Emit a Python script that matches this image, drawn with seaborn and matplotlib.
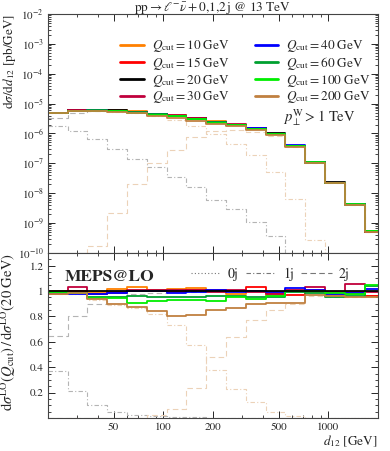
import numpy as np
import matplotlib
matplotlib.use("Agg")
import matplotlib.pyplot as plt
from matplotlib.lines import Line2D
from matplotlib.ticker import FixedLocator, NullFormatter, LogLocator, MultipleLocator, FuncFormatter
import seaborn as sns

# bin edges of the d12 histogram [GeV]
edges = [20.0, 26.3, 34.7, 45.7, 60.3, 79.4, 104.7, 138.0, 182.0, 239.9,
         316.2, 416.9, 549.5, 724.4, 955.0, 1259.0, 1659.6, 2187.8]

# reference prediction Q_cut = 20 GeV, dsigma/dd12 [pb/GeV]
ref_q20 = [5.0e-6, 5.9e-6, 6.2e-6, 5.9e-6, 5.4e-6, 4.6e-6, 4.0e-6, 3.2e-6, 2.5e-6,
           2.0e-6, 1.5e-6, 1.0e-6, 3.9e-7, 1.07e-7, 2.3e-8, 4.3e-9, 5.2e-10]

# ratios to Q_cut = 20 GeV
r10 = [1.00, 1.00, 0.99, 1.02, 1.035, 1.01, 1.02, 1.025, 1.01, 0.975, 1.00, 0.97, 1.00, 0.99, 0.97, 0.975, 0.96]
r15 = [0.975, 1.00, 0.98, 0.99, 1.00, 1.00, 0.99, 1.01, 1.005, 1.00, 1.03, 0.985, 0.97, 1.01, 0.985, 0.99, 0.965]
r20 = [1.0] * 17
r30 = [0.99, 1.03, 0.98, 0.985, 1.005, 1.01, 1.005, 1.01, 0.99, 1.005, 0.99, 0.98, 1.01, 1.035, 0.99, 1.055, 0.995]
r40 = [0.985, 0.975, 0.98, 0.985, 1.00, 1.00, 0.985, 0.99, 1.005, 0.99, 1.00, 0.99, 1.025, 1.01, 0.975, 0.985, 1.015]
r60 = [0.99, 0.985, 0.955, 0.955, 0.96, 0.955, 0.955, 0.955, 0.965, 0.96, 0.955, 0.95, 0.995, 0.985, 0.95, 0.96, 1.04]
r100 = [0.995, 0.985, 0.945, 0.945, 0.91, 0.92, 0.93, 0.93, 0.925, 0.95, 0.94, 0.96, 1.00, 1.00, 0.985, 0.98, 1.05]
r200 = [0.98, 0.985, 0.935, 0.895, 0.875, 0.84, 0.80, 0.81, 0.855, 0.865, 0.90, 0.905, 0.91, 0.97, 0.96, 0.955, 0.955]

# jet multiplicity contributions, as fraction of the Q_cut = 20 GeV total
f1j_q20 = [0.37, 0.21, 0.105, 0.05, 0.026, 0.016, 0.0085, 0.005, 0.0024, 0.0015, 0.0007, 0.00036,
           1e-5, 1e-5, 1e-5, 1e-5, 1e-5]
f2j_q20 = [0.65, 0.80, 0.90, 0.95, 0.975, 0.985, 0.99, 0.995, 1.0, 1.0, 1.0, 1.0, 1.0, 1.0, 1.0, 1.0, 1.0]
f1j_q200 = [0.975, 0.98, 0.93, 0.89, 0.87, 0.82, 0.73, 0.575, 0.375, 0.23, 0.13, 0.05, 0.016, 0.0025,
            1e-5, 1e-5, 1e-5]
f2j_q200 = [1e-7, 1e-7, 2.7e-5, 3.7e-4, 3.9e-3, 0.022, 0.07, 0.235, 0.48, 0.635, 0.77, 0.855, 0.895,
            0.965, 0.955, 0.95, 0.95]

qcuts = [10, 15, 20, 30, 40, 60, 100, 200]
ratios = [r10, r15, r20, r30, r40, r60, r100, r200]
colors = ["#ff8000", "#ff0000", "#000000", "#c0003c", "#0000ff", "#00a030", "#00ee00", "#c08040"]

gray_c = "#b4b4b4"
tan_c = "#ecd2b8"
ls_0j = (0, (1, 2))
ls_1j = (0, (4, 2, 1, 2))
ls_2j = (0, (5, 3))

sns.set_style("ticks")
plt.rcParams["font.family"] = ["STIXGeneral", "DejaVu Sans"]
plt.rcParams["mathtext.fontset"] = "stix"
plt.rcParams["axes.edgecolor"] = "#444444"
plt.rcParams["axes.linewidth"] = 0.8


def step(ax, vals, **kw):
    y = np.append(vals, vals[-1])
    sns.lineplot(x=edges, y=y, drawstyle="steps-post", estimator=None,
                 errorbar=None, ax=ax, **kw)


fig = plt.figure(figsize=(3.9, 4.51), dpi=100)
ax = fig.add_axes([0.123, 0.439, 0.846, 0.530])
axr = fig.add_axes([0.123, 0.073, 0.846, 0.366], sharex=ax)

ref = np.array(ref_q20)

# multiplicity components, main panel
step(ax, ref * np.array(f1j_q20), color=gray_c, lw=0.8, linestyle=ls_1j)
step(ax, ref * np.array(f2j_q20), color=gray_c, lw=0.8, linestyle=ls_2j)
step(ax, ref * np.array(f1j_q200), color=tan_c, lw=0.8, linestyle=ls_1j)
step(ax, ref * np.array(f2j_q200), color=tan_c, lw=0.8, linestyle=ls_2j)

for r, c in zip(ratios, colors):
    step(ax, ref * np.array(r), color=c, lw=1.3)

# ratio panel
step(axr, f1j_q20, color=gray_c, lw=0.8, linestyle=ls_1j)
step(axr, f2j_q20, color=gray_c, lw=0.8, linestyle=ls_2j)
step(axr, f1j_q200, color=tan_c, lw=0.8, linestyle=ls_1j)
step(axr, f2j_q200, color=tan_c, lw=0.8, linestyle=ls_2j)
for r, c in zip(ratios, colors):
    if c != "#000000":
        step(axr, r, color=c, lw=1.3)
step(axr, r20, color="#000000", lw=1.3)

ax.set_xscale("log")
ax.set_yscale("log")
ax.set_xlim(20, 2000)
ax.set_ylim(1e-10, 1e-2)
axr.set_ylim(0.0, 1.3)

for a in (ax, axr):
    a.tick_params(which="both", direction="in", top=True, right=True, labelsize=8)
    a.tick_params(which="major", length=5, width=0.7, pad=3)
    a.tick_params(which="minor", length=2.5, width=0.6)

ax.yaxis.set_major_locator(LogLocator(base=10, numticks=20))
ax.yaxis.set_minor_locator(LogLocator(base=10, subs=np.arange(2, 10), numticks=20))
ax.yaxis.set_minor_formatter(NullFormatter())
ax.tick_params(axis="x", labelbottom=False)

xmaj = [50, 100, 200, 500, 1000]
xmin = [30, 40, 60, 70, 80, 90, 300, 400, 600, 700, 800, 900, 2000]
axr.xaxis.set_major_locator(FixedLocator(xmaj))
axr.xaxis.set_minor_locator(FixedLocator(xmin))
axr.xaxis.set_major_formatter(FuncFormatter(lambda v, p: "%d" % v))
axr.xaxis.set_minor_formatter(NullFormatter())
axr.yaxis.set_major_locator(FixedLocator([0.2, 0.4, 0.6, 0.8, 1.0, 1.2]))
axr.yaxis.set_minor_locator(MultipleLocator(0.05))
axr.yaxis.set_major_formatter(FuncFormatter(lambda v, p: "%g" % v))

fig.text(0.546, 0.998, r"$\mathrm{pp}\rightarrow\ell^{-}\bar{\nu}+0{,}1{,}2\,\mathrm{j}$ @ 13 TeV",
         fontsize=9.5, ha="center", va="top")
ax.set_ylabel(r"$\mathrm{d}\sigma/\mathrm{d}d_{12}$ [pb/GeV]", fontsize=9.5, loc="top")
ax.yaxis.set_label_coords(-0.09, 1.0)
axr.set_ylabel(r"$\mathrm{d}\sigma^{\mathrm{LO}}(Q_{\mathrm{cut}})\,/\,\mathrm{d}\sigma^{\mathrm{LO}}(20\ \mathrm{GeV})$",
               fontsize=10.5, loc="top")
axr.yaxis.set_label_coords(-0.09, 1.0)
axr.set_xlabel(r"$d_{12}$ [GeV]", fontsize=9.5, loc="right", labelpad=1)

handles = [Line2D([], [], color=c, lw=2) for c in colors]
labels = [r"$Q_{\mathrm{cut}} = %d$ GeV" % q for q in qcuts]
ax.legend(handles, labels, ncol=2, loc="upper left", bbox_to_anchor=(0.203, 0.92),
          frameon=False, fontsize=9.5, handlelength=1.8, labelspacing=0.05,
          columnspacing=1.9, handletextpad=0.6, borderaxespad=0)

ax.text(0.712, 0.565, r"$p_{\perp}^{\mathrm{W}} > 1$ TeV", transform=ax.transAxes,
        fontsize=10.5, ha="left", va="center")

axr.text(0.05, 0.855, "MEPS@LO", transform=axr.transAxes, fontsize=12.5,
         fontweight="bold", ha="left", va="center")
mh = [Line2D([], [], color="#777777", lw=0.8, linestyle=ls_0j),
      Line2D([], [], color="#777777", lw=0.8, linestyle=ls_1j),
      Line2D([], [], color="#777777", lw=0.8, linestyle=ls_2j)]
axr.legend(mh, ["0j", "1j", "2j"], ncol=3, loc="center right", bbox_to_anchor=(0.93, 0.87),
           frameon=False, fontsize=10, handlelength=2.2, columnspacing=0.5,
           handletextpad=0.5, borderaxespad=0)

fig.savefig("out.png", dpi=100)
